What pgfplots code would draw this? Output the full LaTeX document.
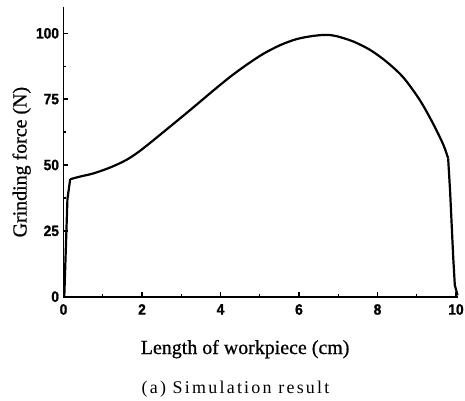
\documentclass[border=0pt]{standalone}
\usepackage{fontspec}
\setmainfont{Liberation Serif}
\newfontfamily\labfont[FakeBold=0.8]{Liberation Serif}
\newfontfamily\tickfont[FakeStretch=0.92,FakeBold=1.2]{Liberation Sans}
\newfontfamily\capfont[LetterSpace=12.5]{Liberation Serif}
\usepackage{pgfplots}
\pgfplotsset{compat=1.18}
\begin{document}
\begin{tikzpicture}
\begin{axis}[
  scale only axis,
  x=39.25bp, y=2.634bp,
  xmin=0, xmax=10.06, ymin=0, ymax=110,
  axis x line=bottom, axis y line=left,
  axis line style={-, line width=1.6bp},
  xtick={0,2,4,6,8,10}, ytick={0,25,50,75,100},
  minor x tick num=1, minor y tick num=1,
  tick align=inside,
  major tick length=5bp, minor tick length=3bp,
  every tick/.style={black, line width=1.4bp},
  /pgf/number format/assume math mode=true,
  ticklabel style={font=\tickfont\bfseries\fontsize{15}{15}\selectfont},
  yticklabel style={xshift=-1bp},
  xticklabel style={yshift=-4bp},
  xlabel={Length of workpiece (cm)},
  xlabel style={font=\labfont\fontsize{20}{20}\selectfont, at={(axis description cs:0.46,0)}, anchor=base, yshift=-57.3bp},
  ylabel={Grinding force (N)},
  ylabel style={font=\labfont\fontsize{20}{20}\selectfont, at={(axis description cs:-0.0937,0.4645)}, anchor=base, rotate=0},
  clip=false,
]
\addplot[black, line width=2.2bp, line join=round] coordinates {
(0.02,0) (0.10,37.0) (0.17,44.6)
};
\addplot[black, line width=2.2bp, smooth, tension=0.5] coordinates {
(0.17,44.6) (0.42,45.6) (0.76,46.8) (1.18,49.0)
(1.61,52.0) (2.03,56.3) (2.97,67.7) (3.39,72.9) (3.82,78.3)
(4.24,83.4) (4.67,88.1) (5.09,92.2) (5.52,95.5) (5.94,97.8) (6.36,99.0)
(6.70,99.4) (6.96,98.9) (7.38,96.9) (7.81,93.7) (8.23,89.2) (8.66,83.2)
(9.08,74.6) (9.42,65.6) (9.68,57.6) (9.80,52.5)
};
\addplot[black, line width=2.2bp, line join=round] coordinates {
(9.80,52.5) (9.85,39.9) (9.93,14.6) (9.97,4.4) (10.04,0.5)
};
\end{axis}
\node[font=\capfont\fontsize{18}{18}\selectfont, anchor=base] at (172bp,-96.6bp) {(a) Simulation result};
\pgfresetboundingbox
\path[use as bounding box] (-63.5bp,-104.3bp) rectangle (401.5bp,296.7bp);
\end{tikzpicture}
\end{document}
